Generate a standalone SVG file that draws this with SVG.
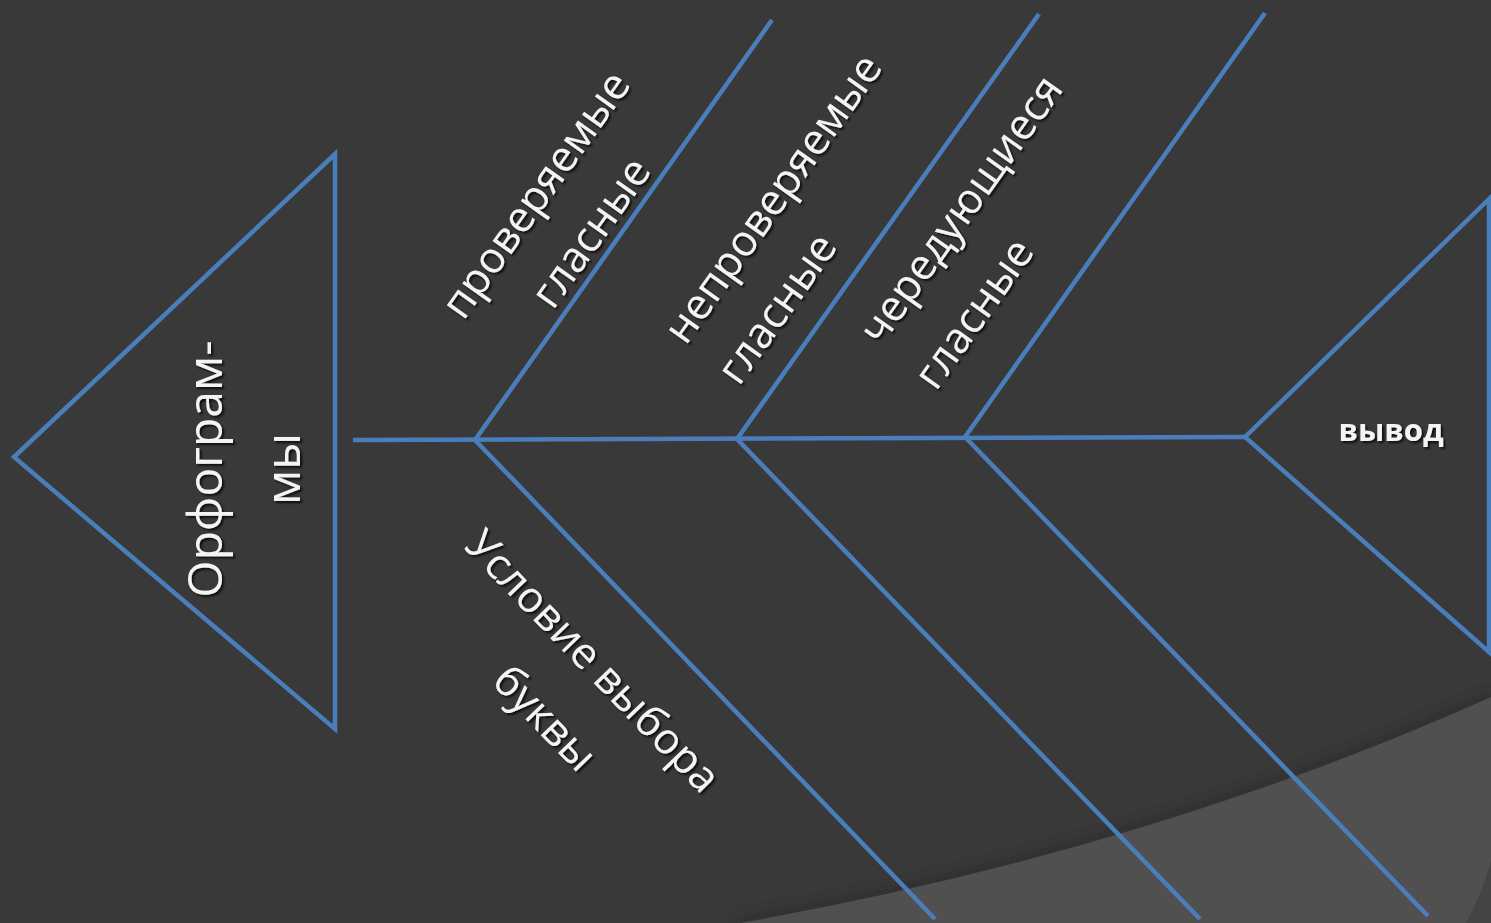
<svg xmlns="http://www.w3.org/2000/svg" width="1491" height="923" viewBox="0 0 1491 923">
  <defs>
    <style>
      .ln { fill: none; stroke: #4a7ebb; stroke-width: 4.5; stroke-linejoin: miter; stroke-linecap: butt; }
      .lbl { font-family: "Open Sans", "Noto Sans", "Liberation Sans", sans-serif; font-size: 43px; fill: #f4f4f4; text-anchor: middle; }
      .head { font-family: "Open Sans", "Noto Sans", "Liberation Sans", sans-serif; font-size: 48px; fill: #f4f4f4; text-anchor: middle; }
      .tail { font-family: "Open Sans", "Noto Sans", "Liberation Sans", sans-serif; font-size: 31px; font-weight: bold; fill: #f4f4f4; text-anchor: middle; }
    </style>
    <filter id="sh" x="-20%" y="-20%" width="140%" height="140%">
      <feDropShadow dx="2" dy="2" stdDeviation="1.2" flood-color="#000" flood-opacity="0.75"/>
    </filter>
    <filter id="blur" x="-10%" y="-50%" width="120%" height="200%">
      <feGaussianBlur stdDeviation="6"/>
    </filter>
  </defs>

  <!-- background -->
  <rect x="0" y="0" width="1491" height="923" fill="#393939"/>
  <path d="M 740 923 Q 1150 850 1491 697" fill="none" stroke="#2c2c2c" stroke-width="10" filter="url(#blur)" opacity="0.8"/>
  <path d="M 740 923 Q 1150 850 1491 697 L 1491 923 Z" fill="#505050"/>
  <path d="M 1491 860 Q 1482 895 1466 923 L 1491 923 Z" fill="#444444"/>

  <!-- connectors -->
  <g id="connectors">
    <line class="ln" x1="353" y1="440" x2="1245" y2="437"/>
    <line class="ln" x1="475" y1="440" x2="772" y2="20"/>
    <line class="ln" x1="737" y1="439" x2="1039" y2="14"/>
    <line class="ln" x1="965" y1="437" x2="1265" y2="13"/>
    <line class="ln" x1="475" y1="440" x2="935" y2="919"/>
    <line class="ln" x1="737" y1="439" x2="1200" y2="919"/>
    <line class="ln" x1="965" y1="437" x2="1428" y2="916"/>
  </g>

  <!-- head node -->
  <g id="head">
    <polygon class="ln" points="14,457 335,154 335,729"/>
    <g filter="url(#sh)">
      <text class="head" transform="translate(222,469) rotate(-90)">Орфограм-</text>
      <text class="head" transform="translate(300,469) rotate(-90)">мы</text>
    </g>
  </g>

  <!-- tail node -->
  <g id="tail">
    <polygon class="ln" points="1245,437 1489,199 1489,652"/>
    <g filter="url(#sh)">
      <text class="tail" x="1391" y="441">вывод</text>
    </g>
  </g>

  <!-- labels -->
  <g id="label-checked" filter="url(#sh)">
    <text class="lbl" transform="translate(538,196) rotate(-54.6)" y="12">проверяемые</text>
    <text class="lbl" transform="translate(593,234) rotate(-54.6)" y="12">гласные</text>
  </g>
  <g id="label-unchecked" filter="url(#sh)">
    <text class="lbl" transform="translate(775,200) rotate(-54.6)" y="12">непроверяемые</text>
    <text class="lbl" transform="translate(779,310) rotate(-54.6)" y="12">гласные</text>
  </g>
  <g id="label-alternating" filter="url(#sh)">
    <text class="lbl" transform="translate(963,211) rotate(-54.6)" y="12">чередующиеся</text>
    <text class="lbl" transform="translate(976,315) rotate(-54.6)" y="12">гласные</text>
  </g>
  <g id="label-condition" filter="url(#sh)">
    <text class="lbl" transform="translate(591,663) rotate(46.1)" y="12">Условие выбора</text>
    <text class="lbl" transform="translate(543,720) rotate(46.1)" y="12">буквы</text>
  </g>
</svg>
